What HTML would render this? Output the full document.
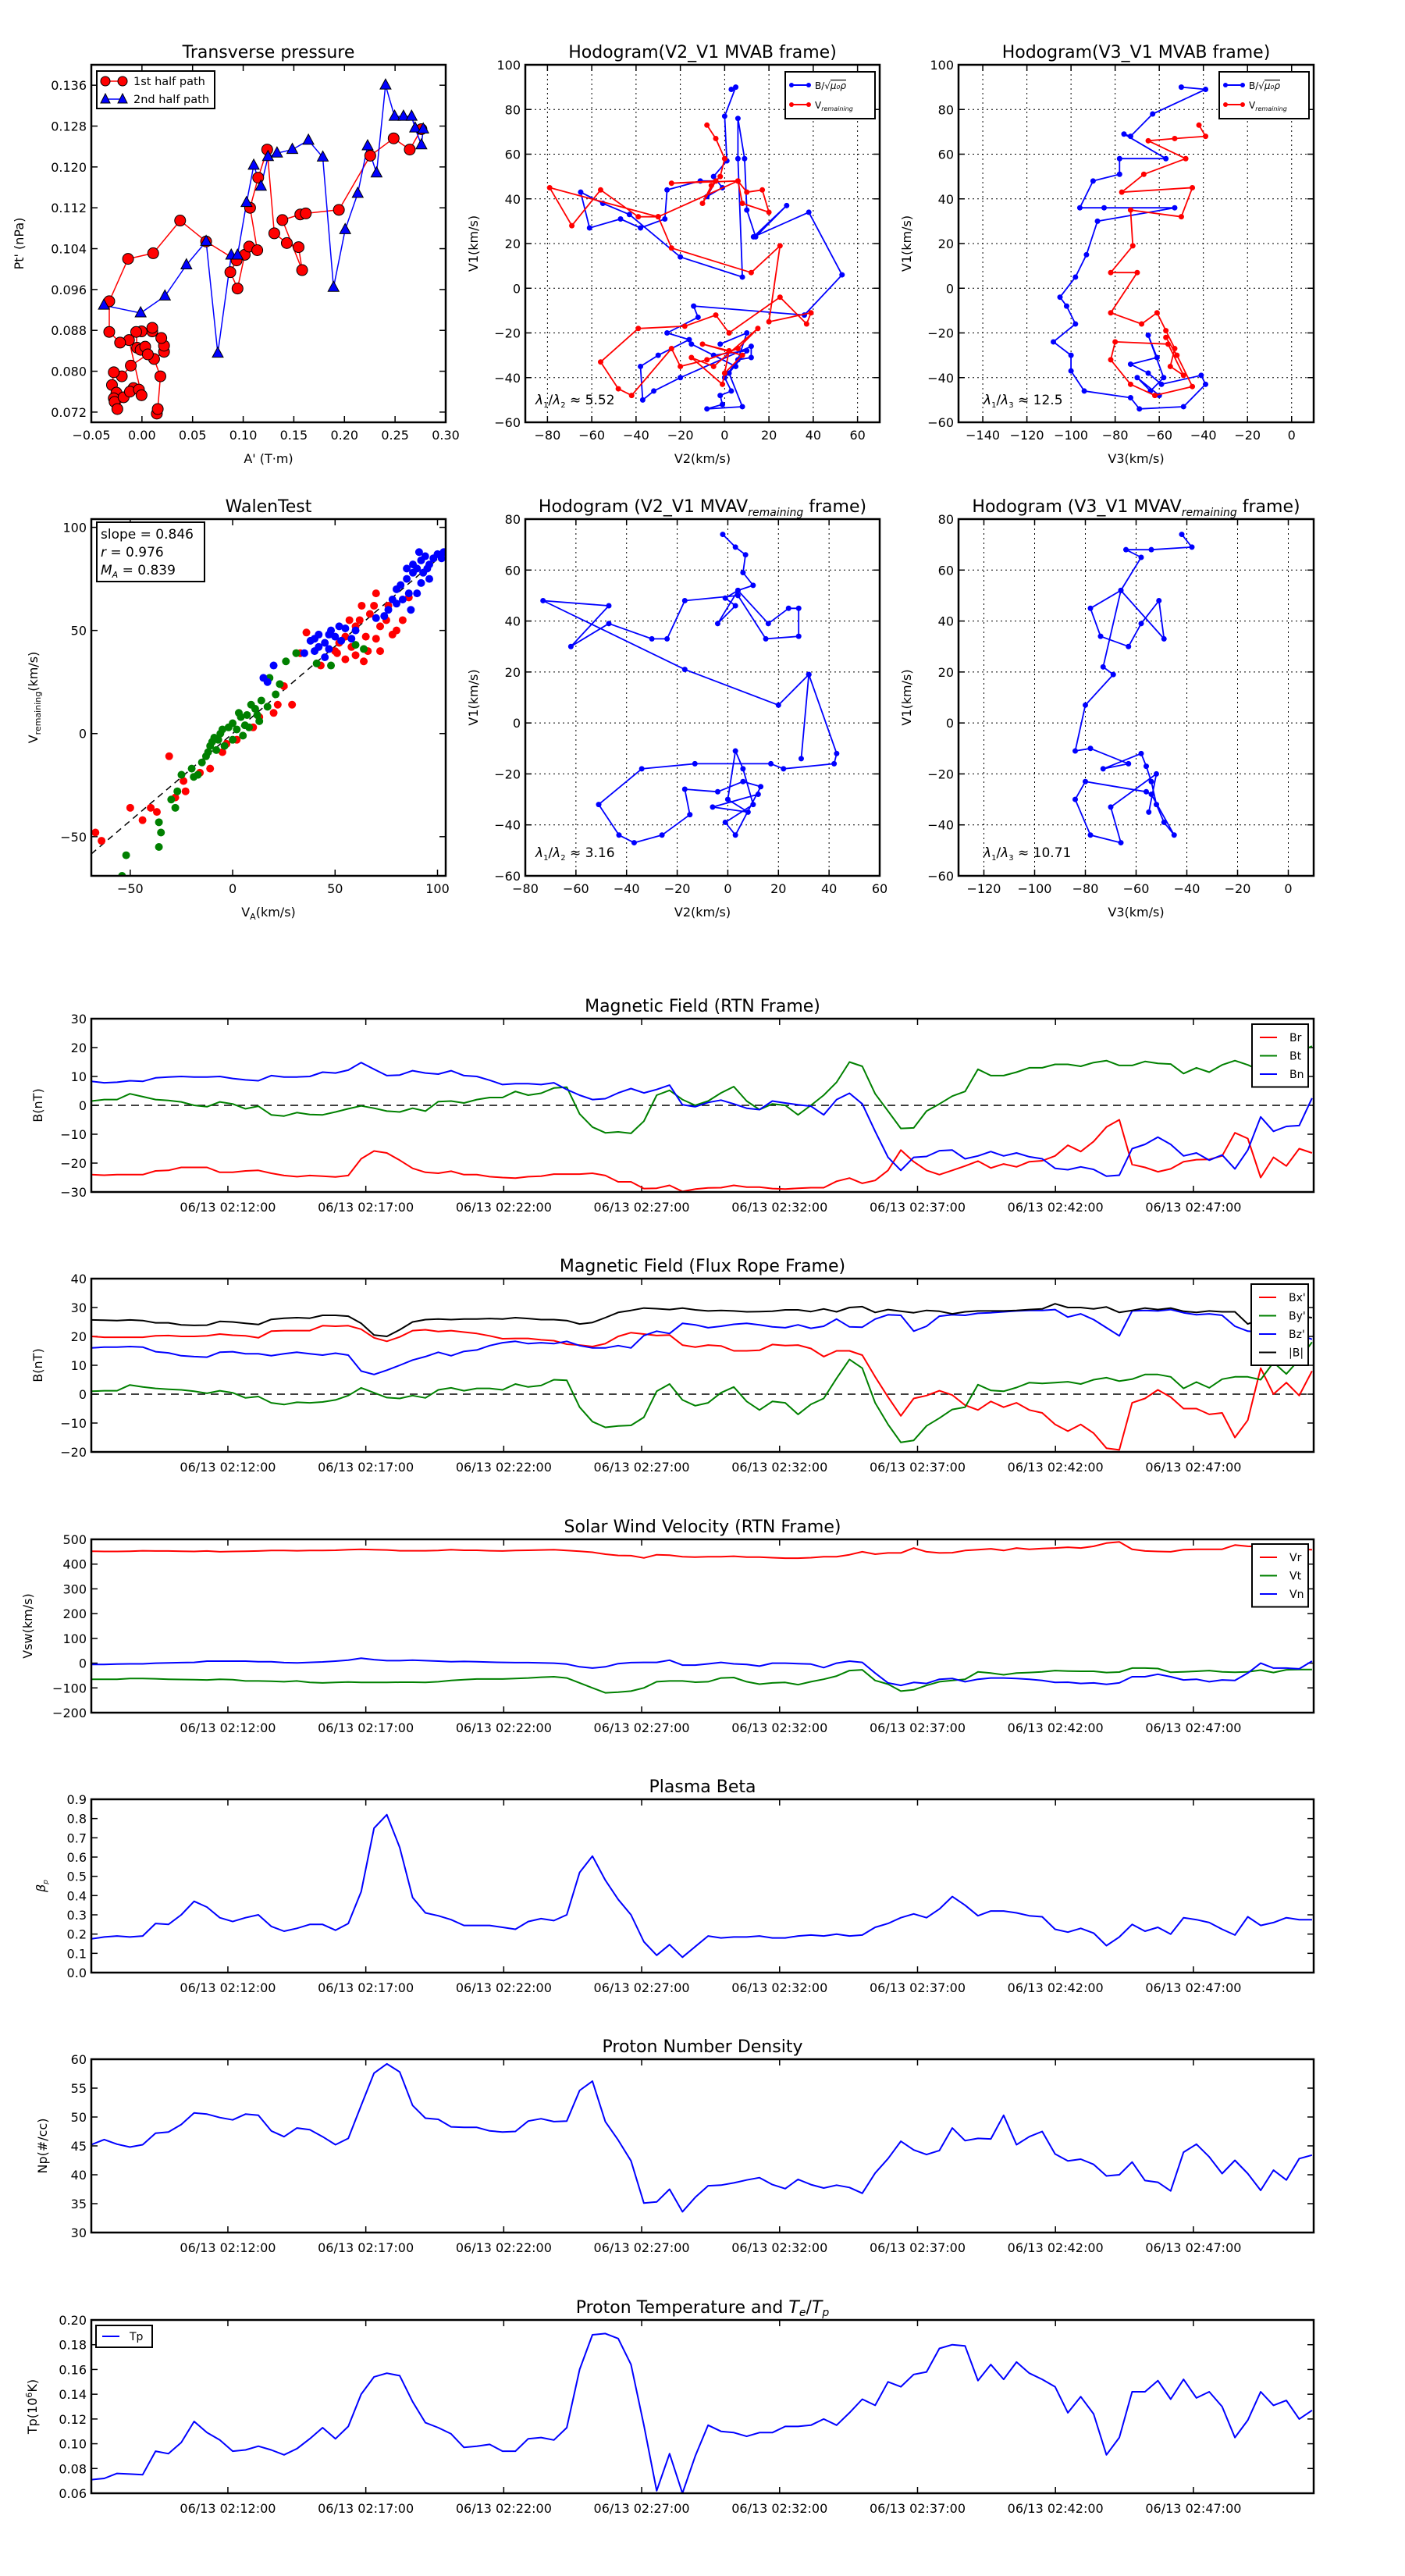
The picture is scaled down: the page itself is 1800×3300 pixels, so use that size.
<!DOCTYPE html>
<html><head><meta charset="utf-8"><style>
html,body{margin:0;padding:0;background:#fff}
svg{display:block;font-family:"DejaVu Sans","Liberation Sans",sans-serif}
</style></head><body>
<svg id="fig" xmlns="http://www.w3.org/2000/svg" width="1800" height="3300" viewBox="0 0 1800 3300"></svg>
<script>
// ---------- DATA ----------
const tpRedX=[0.0147,0.0156,0.0182,0.012,0.0218,0.0218,0.0191,0.0102,0.0102,-0.0004,-0.0057,-0.0048,-0.0013,0.0032,0.0058,-0.011,-0.0199,-0.0278,-0.0296,-0.0252,-0.0278,-0.027,-0.0243,-0.0181,-0.0084,-0.0119,-0.003,-0.0004,-0.0128,-0.0216,-0.0323,-0.0323,-0.0137,0.0111,0.0377,0.0634,0.0935,0.0873,0.0944,0.1015,0.1059,0.1139,0.1068,0.1148,0.1237,0.1307,0.1431,0.1547,0.1582,0.1387,0.1564,0.1618,0.1945,0.2255,0.2486,0.2645,0.276];
const tpRedY=[0.0717,0.0726,0.079,0.0824,0.0838,0.085,0.0865,0.0878,0.0885,0.0878,0.0877,0.0846,0.0842,0.0848,0.0833,0.0811,0.079,0.0798,0.0773,0.0758,0.0747,0.074,0.0726,0.0749,0.0767,0.076,0.0764,0.0753,0.0861,0.0856,0.0877,0.0937,0.102,0.1031,0.1095,0.1054,0.1017,0.0994,0.0962,0.1028,0.1044,0.1037,0.112,0.1179,0.1234,0.107,0.1051,0.1043,0.0998,0.1096,0.1107,0.1109,0.1116,0.1222,0.1256,0.1234,0.1274];
const tpBlueX=[-0.0376,-0.0013,0.0227,0.0439,0.0634,0.0749,0.0882,0.0944,0.1033,0.1104,0.1175,0.1245,0.1334,0.1485,0.1644,0.1786,0.1892,0.2007,0.2131,0.2229,0.2317,0.2406,0.2495,0.2583,0.2663,0.2698,0.276,0.2778];
const tpBlueY=[0.0929,0.0914,0.0947,0.1008,0.1054,0.0835,0.1027,0.1027,0.113,0.1203,0.1162,0.122,0.1227,0.1234,0.1252,0.1219,0.0964,0.1077,0.1148,0.1241,0.1188,0.136,0.1299,0.1299,0.1299,0.1276,0.1243,0.1274];

const h2BlueX=[3,5,0,1,-5,-1,-8,-4,-11,-26,-27,-38,-47,-61,-65,-55,-43,-20,8,6,6,9,10,14,28,13,38,53,36,-14,-12,-26,-16,-30,-38,-37,-32,-20,12,12,6,0,3,-2,-1,-8,8,2,10,-5,-15,5,10,-2];
const h2BlueY=[89,90,77,57,50,45,41,48,48,44,31,27,31,27,43,38,33,14,5,58,76,58,35,23,37,23,34,6,-12,-8,-13,-20,-23,-30,-35,-50,-46,-40,-26,-31,-32,-40,-46,-48,-52,-54,-53,-38,-28,-30,-25,-35,-20,-25];
const h2RedX=[-8,-4,0,-2,-6,-10,-4,-24,6,10,17,20,8,6,-30,-39,-56,-69,-79,-30,-24,12,25,20,39,37,25,2,-4,-18,-39,-56,-48,-42,-24,-20,-8,6,15,-5,-15,-1,2,-10,8,0];
const h2RedY=[73,67,58,50,46,38,48,47,48,43,44,34,38,48,32,32,44,28,45,32,18,7,19,-15,-11,-16,-4,-20,-12,-17,-18,-33,-45,-48,-27,-35,-32,-27,-18,-35,-31,-43,-28,-25,-30,-38];

const h3BlueX=[-50,-39,-63,-73,-76,-57,-78,-78,-90,-96,-85,-53,-88,-93,-98,-105,-102,-98,-108,-100,-100,-94,-73,-69,-49,-39,-41,-59,-65,-73,-61,-65,-58,-64,-70,-60];
const h3BlueY=[90,89,78,68,69,58,58,51,48,36,36,36,30,15,5,-4,-8,-16,-24,-30,-37,-46,-49,-54,-53,-43,-39,-43,-38,-34,-31,-21,-40,-46,-40,-48];
const h3RedX=[-42,-39,-53,-65,-48,-67,-77,-45,-50,-73,-72,-82,-70,-82,-68,-61,-57,-53,-55,-49,-56,-80,-82,-73,-62,-45,-52,-57];
const h3RedY=[73,68,67,66,58,51,43,45,32,35,19,7,7,-11,-16,-11,-19,-27,-35,-39,-25,-24,-32,-43,-48,-44,-30,-22];

const h5X=[-2,3,7,6,10,4,-1,3,-4,4,16,24,28,28,15,4,-17,-24,-30,-47,-62,-47,-73,-17,20,32,29,32,43,42,22,17,-13,-34,-51,-43,-37,-26,-15,-17,-4,6,13,3,-1,10,6,3,0,8,-6,12];
const h5Y=[74,69,66,59,54,52,49,46,39,52,39,45,45,34,33,50,48,33,33,39,30,46,48,21,7,19,-14,19,-12,-16,-18,-16,-16,-18,-32,-44,-47,-44,-36,-26,-27,-23,-25,-44,-39,-32,-18,-11,-30,-35,-33,-28];
const h6X=[-42,-38,-54,-64,-58,-66,-78,-74,-63,-58,-51,-49,-66,-73,-69,-80,-84,-78,-63,-73,-58,-56,-54,-52,-49,-45,-54,-56,-80,-84,-78,-66,-70,-52,-55];
const h6Y=[74,69,68,68,65,52,45,34,30,39,48,33,52,22,19,7,-11,-10,-16,-18,-12,-17,-23,-32,-39,-44,-28,-27,-23,-30,-44,-47,-33,-20,-35];

const walenGreenX=[-54,-52,-36,-35,-36,-28,-30,-27,-25,-19,-17,-15,-13,-11,-9,-8,-6,-4,-2,0,2,4,5,7,8,11,13,14,17,18,21,23,26,31,41,48,60,64,-20,-10,-5,0,3,6,9,12,-12,-7];
const walenGreenY=[-69,-59,-55,-48,-43,-36,-32,-28,-20,-21,-20,-14,-11,-6,-2,-8,0,-6,3,-3,2,8,-1,9,3,12,6,16,13,27,19,24,35,39,34,33,43,41,-17,-4,2,5,10,4,14,9,-9,-3];
const walenRedX=[-67,-64,-50,-44,-40,-37,-31,-28,-23,-24,-16,-11,-5,-3,2,10,13,20,22,29,25,33,36,43,51,55,58,55,60,62,57,65,66,67,69,70,72,75,76,78,80,83,86,52,50,63,70,64,60,72];
const walenRedY=[-48,-52,-36,-42,-36,-38,-11,-31,-28,-23,-19,-17,-9,-5,-3,3,8,10,14,14,23,39,49,33,39,36,42,47,52,55,55,47,40,58,62,46,52,55,62,48,50,55,66,44,40,62,68,35,38,40];
const walenBlueX=[15,20,17,35,38,40,42,45,47,48,50,53,55,58,60,45,42,80,82,83,85,86,88,90,92,94,95,96,90,92,88,98,100,102,103,87,93,91,96,85,80,76,78,74,70,52,47,40];
const walenBlueY=[27,33,25,39,45,40,48,44,41,50,47,45,51,46,50,37,42,70,72,65,75,68,78,80,84,86,80,75,68,73,82,85,87,85,88,60,78,88,82,80,63,60,65,57,56,52,48,46];

const brVals=[-24,-24.2,-24,-24,-24,-22.7,-22.5,-21.5,-21.5,-21.5,-23.2,-23.2,-22.7,-22.5,-23.5,-24.3,-24.7,-24.3,-24.5,-24.8,-24.3,-18.5,-15.8,-16.5,-19,-21.8,-23.2,-23.5,-22.8,-24,-24,-24.7,-25,-25.2,-24.7,-24.5,-23.8,-23.8,-23.8,-23.5,-24.3,-26.5,-26.5,-28.8,-28.7,-27.7,-29.8,-29,-28.6,-28.5,-27.7,-28.3,-28.3,-28.8,-29,-28.7,-28.5,-28.5,-26.3,-25.2,-27,-26,-22.5,-15.5,-19.5,-22.5,-24,-22.5,-21,-19.3,-21.7,-20.3,-21.3,-19.5,-19.2,-17.5,-13.8,-16,-12.5,-7.5,-5,-20.5,-21.5,-23,-22,-19.5,-18.8,-18.7,-17.5,-9.5,-11.5,-25,-18,-21,-15,-16.5];
const btVals=[1.5,2,2,4,3,2,1.7,1.2,0,-0.5,1.2,0.5,-1.2,-0.3,-3.3,-3.7,-2.5,-3.2,-3.3,-2.3,-1.2,-0.2,-1,-2,-2.3,-1,-2,1.3,1.5,0.8,2,2.7,2.7,4.8,3.5,4.2,6,6.3,-3,-7.5,-9.5,-9.2,-9.7,-5.5,3.5,5.2,2,0,1.5,4.3,6.5,1.5,-1.5,0.5,0,-3.3,0,3.5,8,15,13.5,4,-2,-8,-7.8,-2,0.5,3.2,4.8,12.5,10.3,10.3,11.5,13,13,14.2,14.2,13.5,14.8,15.5,13.8,13.8,15.2,14.5,14.3,11,13,11.5,14,15.5,14,12,15,17,18.5,20.5];
const bnVals=[8.3,7.8,8,8.5,8.3,9.5,9.8,10,9.8,9.8,10,9.3,8.8,8.5,10.3,9.8,9.8,10,11.5,11.2,12.2,14.8,12.5,10.3,10.5,12,11.2,10.8,12,10.3,10,8.7,7.2,7.5,7.5,7.2,7.8,5.5,3.5,2,2.3,4.3,5.8,4.3,5.5,7,0.2,-0.5,1,1.8,0.5,-1,-1.5,1.5,0.8,0.2,-0.3,-3.3,2,4.2,0.5,-9,-18,-22.5,-18,-17.7,-15.7,-15.5,-18.5,-17.5,-16,-17.5,-16.5,-17.8,-18.5,-21.8,-22.3,-21.3,-22.2,-24.5,-24.2,-15,-13.5,-11,-13.5,-17.5,-16.5,-19,-17.2,-22,-15.5,-4,-9,-7.3,-7,2.5];

const bxVals=[20,19.7,19.7,19.7,19.7,20.2,20.3,20,20,20.2,20.8,20.4,20.2,19.5,21.8,22,22,22,23.7,23.5,23.7,22.5,19.5,18.3,19.8,22,22.3,21.7,22,21.5,21,20.2,19.2,19.3,19.3,18.8,18.5,17.3,17,16.5,17.5,20,21.3,20.8,20.3,20.5,17,16.3,17,16.7,15,15,15.2,17.2,16.8,17,15.8,13,15,15,13.5,6,-1,-7.5,-1.5,-0.5,1.2,-0.3,-3.8,-5.5,-2.5,-4.5,-3,-5.5,-6.5,-10.5,-12.8,-10.5,-13.5,-18.7,-19.3,-3,-1.5,1.5,-1,-5,-5,-7,-6.5,-15,-9,9,0,4,-0.5,8];
const byVals=[1,1.2,1.2,3.2,2.5,2,1.7,1.5,1,0.3,1.2,0.5,-1.3,-0.8,-3,-3.6,-2.8,-3,-2.7,-2,-0.5,2.2,0.5,-1.2,-1.5,-0.5,-1.3,1.5,2.2,1.2,2,2,1.5,3.5,2.5,3,5,4.8,-4.5,-9.5,-11.5,-11,-10.8,-8,1,3.5,-2,-4,-3,0.5,2.5,-2.5,-5.5,-2.5,-3,-7,-3.5,-1.5,5.5,12,9,-3,-10.5,-16.7,-16,-11,-8.3,-5.3,-4.5,3.3,1.3,1,2.3,4,3.7,4,4.3,3.5,5,5.7,4.5,5.2,6.8,6.8,6,2,4.2,2.2,5.2,6,6,5,11,7,12,18];
const bzVals=[16,16.3,16.3,16.5,16.3,14.7,14.3,13.3,13,12.8,14.5,14.7,14,14,13.3,14,14.5,14,13.5,14.2,13.5,8,6.8,8.3,10,11.8,13,14.5,13.3,14.8,15.3,16.8,17.8,18.3,17.5,17.8,17.5,18.3,16.8,16,16,16.8,16,20.3,21.8,21,24.5,24,23,23.5,24.2,24.5,24,23.3,23,24,22.8,23.5,26,23.3,23.2,26,27.5,27.3,21.8,23.5,27,27.5,27.3,28,28.2,28.5,28.8,29,29,29.3,26.7,27.8,25.8,23,20.2,28.8,29,28.8,29.3,28.2,27.5,27.8,27.3,23.5,21.8,21.5,21.5,20,20.5,19];
const bmagVals=[25.7,25.6,25.5,25.7,25.5,24.7,24.7,24,23.8,23.9,25.2,25,24.5,24.1,25.9,26.3,26.5,26.3,27.3,27.3,27,24.5,20.5,20,22.3,25,25.8,26,25.8,26,26,26.2,26,26.5,26.2,25.8,25.8,25.5,24.3,24.8,26.5,28.3,29,29.8,29.6,29.3,29.8,29.2,28.8,29,28.8,28.5,28.6,28.7,29.2,29.2,28.6,29.5,28.5,30,30.3,28.3,29.3,28.7,28.2,29,28.7,27.8,28.5,28.8,28.8,28.8,29,29.3,29.5,31.3,30,30,29.5,30.2,28.3,29,29.8,29.3,29.8,28.7,28.3,28.8,28.5,28.5,24.3,26,27,28.5,27,26.5];

const vrVals=[452,451,451,452,454,453,453,452,451,453,450,451,452,453,455,455,454,455,455,456,458,460,458,457,454,454,454,455,458,456,456,454,453,455,456,457,458,455,452,448,440,435,434,425,438,436,430,428,430,430,432,428,428,426,424,424,426,430,430,438,450,440,445,445,465,450,445,446,455,458,462,455,465,460,463,465,468,465,472,485,490,460,453,451,450,458,460,460,460,477,472,470,463,465,460,458];
const vtVals=[-65,-65,-65,-62,-62,-63,-65,-66,-67,-68,-65,-67,-72,-72,-73,-75,-72,-78,-80,-78,-76,-78,-78,-78,-77,-77,-78,-75,-70,-67,-64,-64,-64,-62,-60,-57,-55,-60,-80,-100,-120,-117,-113,-100,-75,-72,-72,-77,-75,-60,-58,-75,-85,-80,-78,-87,-75,-65,-52,-30,-27,-70,-85,-113,-108,-90,-75,-70,-65,-35,-40,-47,-40,-38,-35,-30,-32,-33,-33,-38,-36,-20,-20,-22,-37,-35,-33,-30,-35,-37,-35,-28,-38,-27,-26,-26];
const vnVals=[-5,-5,-4,-3,-3,0,1,2,3,8,8,8,8,6,6,2,1,3,5,8,12,20,14,10,10,12,10,8,6,7,6,4,3,2,2,1,0,-4,-15,-20,-15,-2,2,3,3,12,-8,-8,-3,3,-3,-5,-12,0,0,-2,-4,-18,0,8,3,-40,-80,-90,-78,-82,-65,-62,-75,-65,-60,-60,-62,-65,-70,-78,-77,-82,-80,-86,-80,-55,-55,-45,-55,-68,-65,-75,-68,-70,-40,0,-20,-20,-23,8];

const betaVals=[0.175,0.185,0.19,0.185,0.19,0.255,0.25,0.30,0.37,0.34,0.285,0.265,0.285,0.30,0.24,0.215,0.23,0.25,0.25,0.22,0.255,0.42,0.75,0.82,0.65,0.39,0.31,0.295,0.275,0.245,0.245,0.245,0.235,0.225,0.265,0.28,0.27,0.30,0.52,0.605,0.48,0.38,0.30,0.16,0.09,0.145,0.08,0.135,0.19,0.18,0.185,0.185,0.19,0.18,0.18,0.19,0.195,0.19,0.20,0.19,0.195,0.235,0.255,0.285,0.305,0.285,0.33,0.395,0.35,0.295,0.32,0.32,0.31,0.295,0.29,0.225,0.21,0.23,0.205,0.14,0.185,0.25,0.215,0.235,0.20,0.285,0.275,0.26,0.225,0.195,0.29,0.245,0.26,0.285,0.275,0.275];
const npVals=[45.2,46.1,45.3,44.8,45.2,47.2,47.4,48.7,50.7,50.5,49.9,49.5,50.5,50.3,47.6,46.6,48.1,47.8,46.6,45.2,46.3,52.0,57.6,59.2,57.8,52.0,49.8,49.6,48.3,48.2,48.2,47.6,47.4,47.5,49.3,49.7,49.2,49.3,54.6,56.2,49.2,46.0,42.4,35.1,35.3,37.5,33.6,36.1,38.1,38.2,38.6,39.1,39.5,38.3,37.6,39.2,38.3,37.7,38.2,37.8,36.8,40.3,42.8,45.8,44.3,43.5,44.2,48.1,45.9,46.3,46.2,50.3,45.2,46.6,47.5,43.6,42.4,42.7,41.8,39.8,40.0,42.2,39.0,38.7,37.2,43.9,45.3,43.1,40.2,42.5,40.2,37.3,40.8,39.1,42.8,43.4];
const tpVals=[0.071,0.072,0.076,0.0755,0.075,0.094,0.092,0.101,0.118,0.109,0.103,0.094,0.095,0.098,0.095,0.091,0.096,0.104,0.113,0.104,0.114,0.140,0.154,0.157,0.155,0.134,0.117,0.113,0.108,0.097,0.098,0.0995,0.094,0.094,0.104,0.105,0.103,0.113,0.160,0.188,0.189,0.185,0.164,0.115,0.062,0.092,0.060,0.090,0.115,0.110,0.109,0.106,0.109,0.109,0.114,0.114,0.115,0.120,0.115,0.125,0.136,0.131,0.150,0.146,0.156,0.158,0.177,0.180,0.179,0.151,0.164,0.152,0.166,0.157,0.152,0.146,0.125,0.138,0.124,0.091,0.105,0.142,0.142,0.151,0.136,0.152,0.137,0.142,0.130,0.105,0.119,0.142,0.131,0.135,0.120,0.127];

const timeTickMinutes=[12,17,22,27,32,37,42,47];
const timeTickLabels=["06/13 02:12:00","06/13 02:17:00","06/13 02:22:00","06/13 02:27:00","06/13 02:32:00","06/13 02:37:00","06/13 02:42:00","06/13 02:47:00"];
const sampleStartMin=7.05, sampleStepMin=0.4658, timeMinMin=7.05, timeMaxMin=51.36;

// ---------- HELPERS ----------
const NS="http://www.w3.org/2000/svg";
const svg=document.getElementById('fig');
function mk(tag,attrs,parent){const e=document.createElementNS(NS,tag);for(const k in attrs)e.setAttribute(k,attrs[k]);(parent||svg).appendChild(e);return e;}
function txt(x,y,s,size,anchor,parent,extra){const t=mk('text',Object.assign({x:x,y:y,'font-size':size,'text-anchor':anchor||'middle',fill:'#000'},extra||{}),parent);t.innerHTML=s;return t;}
function fmtNum(v,d){const s=Math.abs(v).toFixed(d);return (v<-1e-9?'\u2212':'')+s;}

function makeAxes(name,o){
  const g=mk('g',{});
  
  
  const sx=v=>o.x0+(v-o.xmin)/(o.xmax-o.xmin)*o.w;
  const sy=v=>o.y0+o.h-(v-o.ymin)/(o.ymax-o.ymin)*o.h;
  // grid
  if(o.grid){
    o.xticks.forEach(v=>{const X=sx(v);if(X>o.x0+1&&X<o.x0+o.w-1)mk('line',{x1:X,x2:X,y1:o.y0,y2:o.y0+o.h,stroke:'#000','stroke-width':1,'stroke-dasharray':'2,4'},g);});
    o.yticks.forEach(v=>{const Y=sy(v);if(Y>o.y0+1&&Y<o.y0+o.h-1)mk('line',{x1:o.x0,x2:o.x0+o.w,y1:Y,y2:Y,stroke:'#000','stroke-width':1,'stroke-dasharray':'2,4'},g);});
  }
  const xg=mk('g',{},g);
  
  
  o.xticks.forEach((v,i)=>{const X=sx(v);
    mk('line',{x1:X,x2:X,y1:o.y0+o.h,y2:o.y0+o.h-8,stroke:'#000','stroke-width':1.5},xg);
    mk('line',{x1:X,x2:X,y1:o.y0,y2:o.y0+8,stroke:'#000','stroke-width':1.5},xg);
    const lab=o.xlabels?o.xlabels[i]:fmtNum(v,o.xd||0);
    txt(X,o.y0+o.h+(o.xtickDy||22),lab,16,'middle',xg);
  });
  const yg=mk('g',{},g);
  
  
  o.yticks.forEach(v=>{const Y=sy(v);
    mk('line',{x1:o.x0,x2:o.x0+8,y1:Y,y2:Y,stroke:'#000','stroke-width':1.5},yg);
    mk('line',{x1:o.x0+o.w,x2:o.x0+o.w-8,y1:Y,y2:Y,stroke:'#000','stroke-width':1.5},yg);
    txt(o.x0-6,Y+6,fmtNum(v,o.yd||0),16,'end',yg);
  });
  if(o.title){const t=txt(o.x0+o.w/2,o.y0-9,o.title,22,'middle',g);}
  if(o.xlabel){const t=txt(o.x0+o.w/2,o.y0+o.h+52,o.xlabel,16,'middle',g);}
  if(o.ylabel){const t=txt(0,0,o.ylabel,16,'middle',g,{transform:`translate(${o.ylx},${o.y0+o.h/2}) rotate(-90)`});}
  const clipId='c'+name;
  const cp=mk('clipPath',{id:clipId},g);mk('rect',{x:o.x0,y:o.y0,width:o.w,height:o.h},cp);
  const plot=mk('g',{'clip-path':`url(#${clipId})`},g);
  
  
  const frame=()=>mk('rect',{x:o.x0,y:o.y0,width:o.w,height:o.h,fill:'none',stroke:'#000','stroke-width':2.5},g);
  return {g,plot,sx,sy,frame,o};
}
function polyline(ax,xs,ys,color,name,w){
  const n=Math.min(xs.length,ys.length);const pts=[];
  for(let i=0;i<n;i++)pts.push(ax.sx(xs[i]).toFixed(1)+','+ax.sy(ys[i]).toFixed(1));
  const p=mk('polyline',{points:pts.join(' '),fill:'none',stroke:color,'stroke-width':w||2,'stroke-linejoin':'round'},ax.plot);
  
  
  return p;
}
function dots(ax,xs,ys,color,r,name,stroke){
  const g=mk('g',{},ax.plot);
  
  
  const n=Math.min(xs.length,ys.length);
  for(let i=0;i<n;i++){mk('circle',{cx:ax.sx(xs[i]),cy:ax.sy(ys[i]),r:r,fill:color,stroke:stroke||'none','stroke-width':1},g);}
}
function tris(ax,xs,ys,color,name){
  const g=mk('g',{},ax.plot);
  
  
  const n=Math.min(xs.length,ys.length);
  for(let i=0;i<n;i++){const X=ax.sx(xs[i]),Y=ax.sy(ys[i]);mk('polygon',{points:`${X},${Y-8} ${X-7},${Y+5} ${X+7},${Y+5}`,fill:color,stroke:'#000','stroke-width':1},g);}
}
function range(a,b,s){const r=[];for(let v=a;v<=b+s*1e-6;v+=s)r.push(+v.toFixed(6));return r;}

// ---------- TOP ROW ----------
const rowA={y0:83,h:458}, rowB={y0:665,h:457};
// Transverse pressure
const axT=makeAxes('transverse-pressure-chart',{x0:117,y0:rowA.y0,w:454,h:rowA.h,xmin:-0.05,xmax:0.30,ymin:0.070,ymax:0.140,xticks:range(-0.05,0.30,0.05),yticks:range(0.072,0.136,0.008),xd:2,yd:3,title:'Transverse pressure',xlabel:"A' (T·m)",ylabel:"Pt' (nPa)",ylx:30});
polyline(axT,tpRedX,tpRedY,'#ff0000','first-half-path-line',1.5);
polyline(axT,tpBlueX,tpBlueY,'#0000ff','second-half-path-line',1.5);
dots(axT,tpRedX,tpRedY,'#ff0000',7,'first-half-path-markers','#000');
tris(axT,tpBlueX,tpBlueY,'#0000ff','second-half-path-markers');
axT.frame();
{const lg=mk('g',{});
 mk('rect',{x:124,y:91,width:151,height:48,fill:'#fff',stroke:'#000','stroke-width':2},lg);
 mk('line',{x1:135,x2:157,y1:104,y2:104,stroke:'#f00','stroke-width':1.5},lg);
 mk('circle',{cx:135,cy:104,r:6,fill:'#f00',stroke:'#000'},lg);mk('circle',{cx:157,cy:104,r:6,fill:'#f00',stroke:'#000'},lg);
 txt(171,109,'1st half path',14.5,'start',lg);
 mk('line',{x1:135,x2:157,y1:127,y2:127,stroke:'#00f','stroke-width':1.5},lg);
 mk('polygon',{points:'135,120 129,132 141,132',fill:'#00f',stroke:'#000'},lg);mk('polygon',{points:'157,120 151,132 163,132',fill:'#00f',stroke:'#000'},lg);
 txt(171,132,'2nd half path',14.5,'start',lg);}

function hodoLegend(name,x,y,twoRed){
  const lg=mk('g',{});
  mk('rect',{x:x,y:y,width:115,height:60,fill:'#fff',stroke:'#000','stroke-width':2},lg);
  mk('line',{x1:x+8,x2:x+30,y1:y+17,y2:y+17,stroke:'#00f','stroke-width':2},lg);
  mk('circle',{cx:x+8,cy:y+17,r:3,fill:'#00f'},lg);mk('circle',{cx:x+30,cy:y+17,r:3,fill:'#00f'},lg);
  txt(x+38,y+22,'B/√<tspan font-style="italic" text-decoration="overline">μ₀ρ</tspan>',12,'start',lg);
  mk('line',{x1:x+8,x2:x+30,y1:y+42,y2:y+42,stroke:'#f00','stroke-width':2},lg);
  mk('circle',{cx:x+8,cy:y+42,r:3,fill:'#f00'},lg);mk('circle',{cx:x+30,cy:y+42,r:3,fill:'#f00'},lg);
  txt(x+38,y+47,'V<tspan font-size="8" font-style="italic" dy="3">remaining</tspan>',12,'start',lg);
}
// Hodogram V2_V1 MVAB
const axH2=makeAxes('hodogram-v2-v1-mvab',{x0:673,y0:rowA.y0,w:454,h:rowA.h,xmin:-90,xmax:70,ymin:-60,ymax:100,xticks:range(-80,60,20),yticks:range(-60,100,20),grid:true,title:'Hodogram(V2_V1 MVAB frame)',xlabel:'V2(km/s)',ylabel:'V1(km/s)',ylx:612});
polyline(axH2,h2BlueX,h2BlueY,'#0000ff','b-field-hodogram-line',1.8);dots(axH2,h2BlueX,h2BlueY,'#0000ff',3.5,'b-field-hodogram-points');
polyline(axH2,h2RedX,h2RedY,'#ff0000','velocity-hodogram-line',1.8);dots(axH2,h2RedX,h2RedY,'#ff0000',3.5,'velocity-hodogram-points');
axH2.frame();hodoLegend('hodogram-v2-legend',1006,92);
txt(686,518,'<tspan font-style="italic">λ</tspan><tspan font-size="10" dy="4">1</tspan><tspan dy="-4">/</tspan><tspan font-style="italic">λ</tspan><tspan font-size="10" dy="4">2</tspan><tspan dy="-4"> ≈ 5.52</tspan>',17,'start');
// Hodogram V3_V1 MVAB
const axH3=makeAxes('hodogram-v3-v1-mvab',{x0:1228,y0:rowA.y0,w:455,h:rowA.h,xmin:-151,xmax:10,ymin:-60,ymax:100,xticks:range(-140,0,20),yticks:range(-60,100,20),grid:true,title:'Hodogram(V3_V1 MVAB frame)',xlabel:'V3(km/s)',ylabel:'V1(km/s)',ylx:1167});
polyline(axH3,h3BlueX,h3BlueY,'#0000ff','b-field-hodogram-line',1.8);dots(axH3,h3BlueX,h3BlueY,'#0000ff',3.5,'b-field-hodogram-points');
polyline(axH3,h3RedX,h3RedY,'#ff0000','velocity-hodogram-line',1.8);dots(axH3,h3RedX,h3RedY,'#ff0000',3.5,'velocity-hodogram-points');
axH3.frame();hodoLegend('hodogram-v3-legend',1562,92);
txt(1260,518,'<tspan font-style="italic">λ</tspan><tspan font-size="10" dy="4">1</tspan><tspan dy="-4">/</tspan><tspan font-style="italic">λ</tspan><tspan font-size="10" dy="4">3</tspan><tspan dy="-4"> ≈ 12.5</tspan>',17,'start');

// ---------- SECOND ROW ----------
const axW=makeAxes('walen-test-chart',{x0:117,y0:rowB.y0,w:454,h:rowB.h,xmin:-69,xmax:104,ymin:-69,ymax:104,xticks:[-50,0,50,100],yticks:[-50,0,50,100],title:'WalenTest',xlabel:'V<tspan font-size="11" dy="4">A</tspan><tspan dy="-4">(km/s)</tspan>',ylabel:'V<tspan font-size="11" dy="4">remaining</tspan><tspan dy="-4">(km/s)</tspan>',ylx:48});
{const fx=[-69,104];const fy=fx.map(v=>0.846*v);const l=polyline(axW,fx,fy,'#000','walen-fit-line',1.5);l.setAttribute('stroke-dasharray','8,6');}
dots(axW,walenRedX,walenRedY,'#ff0000',5,'walen-red-points');
dots(axW,walenGreenX,walenGreenY,'#008000',5,'walen-green-points');
dots(axW,walenBlueX,walenBlueY,'#0000ff',5,'walen-blue-points');
axW.frame();
{const b=mk('g',{});
 mk('rect',{x:124,y:669,width:138,height:76,fill:'#fff',stroke:'#000','stroke-width':2},b);
 txt(129,690,'slope = 0.846',17,'start',b);
 txt(129,713,'<tspan font-style="italic">r</tspan> = 0.976',17,'start',b);
 txt(129,736,'<tspan font-style="italic">M</tspan><tspan font-size="11" font-style="italic" dy="4">A</tspan><tspan dy="-4"> = 0.839</tspan>',17,'start',b);}
const axH5=makeAxes('hodogram-v2-v1-mvav',{x0:673,y0:rowB.y0,w:454,h:rowB.h,xmin:-80,xmax:60,ymin:-60,ymax:80,xticks:range(-80,60,20),yticks:range(-60,80,20),grid:true,title:'Hodogram (V2_V1 MVAV<tspan font-size="14" font-style="italic" dy="5">remaining</tspan><tspan dy="-5"> frame)</tspan>',xlabel:'V2(km/s)',ylabel:'V1(km/s)',ylx:612});
polyline(axH5,h5X,h5Y,'#0000ff','b-field-hodogram-line',1.8);dots(axH5,h5X,h5Y,'#0000ff',3.5,'b-field-hodogram-points');axH5.frame();
txt(686,1098,'<tspan font-style="italic">λ</tspan><tspan font-size="10" dy="4">1</tspan><tspan dy="-4">/</tspan><tspan font-style="italic">λ</tspan><tspan font-size="10" dy="4">2</tspan><tspan dy="-4"> ≈ 3.16</tspan>',17,'start');
const axH6=makeAxes('hodogram-v3-v1-mvav',{x0:1228,y0:rowB.y0,w:455,h:rowB.h,xmin:-130,xmax:10,ymin:-60,ymax:80,xticks:range(-120,0,20),yticks:range(-60,80,20),grid:true,title:'Hodogram (V3_V1 MVAV<tspan font-size="14" font-style="italic" dy="5">remaining</tspan><tspan dy="-5"> frame)</tspan>',xlabel:'V3(km/s)',ylabel:'V1(km/s)',ylx:1167});
polyline(axH6,h6X,h6Y,'#0000ff','b-field-hodogram-line',1.8);dots(axH6,h6X,h6Y,'#0000ff',3.5,'b-field-hodogram-points');axH6.frame();
txt(1260,1098,'<tspan font-style="italic">λ</tspan><tspan font-size="10" dy="4">1</tspan><tspan dy="-4">/</tspan><tspan font-style="italic">λ</tspan><tspan font-size="10" dy="4">3</tspan><tspan dy="-4"> ≈ 10.71</tspan>',17,'start');

// ---------- TIME SERIES ----------
function times(n){const t=[];for(let i=0;i<n;i++)t.push(sampleStartMin+i*sampleStepMin);return t;}
function tsAxes(name,top,ymin,ymax,yticks,yd,title,ylabel,ylx){
  return makeAxes(name,{x0:117,y0:top,w:1566,h:222,xmin:timeMinMin,xmax:timeMaxMin,ymin,ymax,xticks:timeTickMinutes,xlabels:timeTickLabels,xtickDy:25,yticks,yd,title,ylabel,ylx});
}
function tsLegend(name,x,y,w,entries){
  const lg=mk('g',{});
  mk('rect',{x:x,y:y,width:w,height:entries.length*23.5+10,fill:'#fff',stroke:'#000','stroke-width':2},lg);
  entries.forEach((e,i)=>{const yy=y+17+i*23.5;mk('line',{x1:x+10,x2:x+32,y1:yy,y2:yy,stroke:e[1],'stroke-width':2},lg);txt(x+48,yy+5,e[0],14,'start',lg);});
}
const ax1=tsAxes('magnetic-field-rtn-chart',1305,-30,30,range(-30,30,10),0,'Magnetic Field (RTN Frame)','B(nT)',54);
{const z=polyline(ax1,[timeMinMin,timeMaxMin],[0,0],'#000','zero-line',1.5);z.setAttribute('stroke-dasharray','10,7');}
polyline(ax1,times(brVals.length),brVals,'#ff0000','br-line');
polyline(ax1,times(btVals.length),btVals,'#008000','bt-line');
polyline(ax1,times(bnVals.length),bnVals,'#0000ff','bn-line');
ax1.frame();tsLegend('rtn-legend',1604,1312,72,[['Br','#f00'],['Bt','#008000'],['Bn','#00f']]);

const ax2=tsAxes('magnetic-field-flux-rope-chart',1638,-20,40,range(-20,40,10),0,'Magnetic Field (Flux Rope Frame)','B(nT)',54);
{const z=polyline(ax2,[timeMinMin,timeMaxMin],[0,0],'#000','zero-line',1.5);z.setAttribute('stroke-dasharray','10,7');}
polyline(ax2,times(bxVals.length),bxVals,'#ff0000','bx-line');
polyline(ax2,times(byVals.length),byVals,'#008000','by-line');
polyline(ax2,times(bzVals.length),bzVals,'#0000ff','bz-line');
polyline(ax2,times(bmagVals.length),bmagVals,'#000000','bmag-line');
ax2.frame();tsLegend('flux-rope-legend',1603,1645,73,[["Bx'",'#f00'],["By'",'#008000'],["Bz'",'#00f'],['|B|','#000']]);

const ax3=tsAxes('solar-wind-velocity-chart',1972,-200,500,range(-200,500,100),0,'Solar Wind Velocity (RTN Frame)','Vsw(km/s)',41);
polyline(ax3,times(vrVals.length),vrVals,'#ff0000','vr-line');
polyline(ax3,times(vtVals.length),vtVals,'#008000','vt-line');
polyline(ax3,times(vnVals.length),vnVals,'#0000ff','vn-line');
ax3.frame();tsLegend('velocity-legend',1604,1978,72,[['Vr','#f00'],['Vt','#008000'],['Vn','#00f']]);

const ax4=tsAxes('plasma-beta-chart',2305,0,0.9,range(0,0.9,0.1),1,'Plasma Beta','<tspan font-style="italic">β</tspan><tspan font-size="9" font-style="italic" dy="3">p</tspan>',58);
polyline(ax4,times(betaVals.length),betaVals,'#0000ff','beta-line');ax4.frame();

const ax5=tsAxes('proton-density-chart',2638,30,60,range(30,60,5),0,'Proton Number Density','Np(#/cc)',60);
polyline(ax5,times(npVals.length),npVals,'#0000ff','density-line');ax5.frame();

const ax6=tsAxes('proton-temperature-chart',2972,0.06,0.20,range(0.06,0.20,0.02),2,'Proton Temperature and <tspan font-style="italic">T</tspan><tspan font-size="14" font-style="italic" dy="4">e</tspan><tspan dy="-4">/</tspan><tspan font-style="italic">T</tspan><tspan font-size="14" font-style="italic" dy="4">p</tspan>','Tp(10<tspan font-size="11" dy="-6">6</tspan><tspan dy="6">K)</tspan>',47);
polyline(ax6,times(tpVals.length),tpVals,'#0000ff','temperature-line');ax6.frame();
{const lg=mk('g',{});
 mk('rect',{x:123,y:2979,width:72,height:28,fill:'#fff',stroke:'#000','stroke-width':2},lg);
 mk('line',{x1:131,x2:153,y1:2993,y2:2993,stroke:'#00f','stroke-width':2},lg);txt(166,2998,'Tp',14,'start',lg);}
</script>
</body></html>
